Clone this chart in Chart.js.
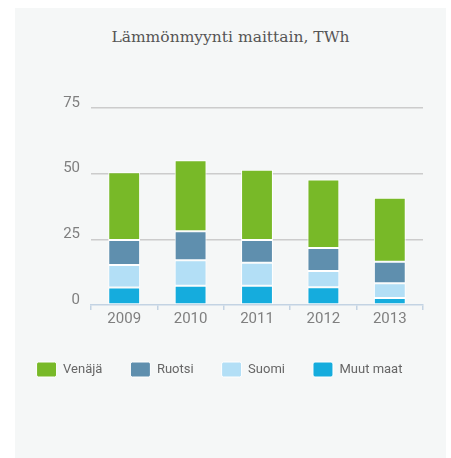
<!DOCTYPE html>
<html>
<head>
<meta charset="utf-8">
<script src="https://cdn.jsdelivr.net/npm/chart.js@4"></script>
<style>
    body { margin: 0; background: #ffffff; }
    #paneeli { position: absolute; left: 15px; top: 8px; width: 431px; height: 450px; background: #f5f7f7; }
    #otsikko {
        position: absolute; left: 0; top: 28px; width: 461px; line-height: 18px;
        text-align: center; font-family: "DejaVu Serif", serif; font-size: 15.5px; color: #555555;
    }
    #kaavio { position: absolute; left: 0; top: 0; }
</style>
</head>
<body>
<div id="paneeli"></div>
<div id="otsikko">Lämmönmyynti maittain, TWh</div>
<canvas id="kaavio" width="451" height="458"></canvas>
<script>

// ================= DATA =================

const vuodet = ["2009", "2010", "2011", "2012", "2013"];

const muutMaat = [6.7, 7.3, 7.3, 6.8, 2.7];
const suomi = [8.5, 9.7, 8.8, 6.1, 5.6];
const ruotsi = [9.5, 11.1, 8.6, 8.8, 8.2];
const venaja = [25.8, 27.0, 26.8, 26.1, 24.3];

const yTicks = [0, 25, 50, 75];

// ================= KAAVIO =================

const ctx = document.getElementById("kaavio").getContext("2d");

function sarja(nimi, arvot, vari) {
    return {
        label: nimi,
        data: arvot,
        backgroundColor: vari,
        borderColor: "#ffffff",
        borderWidth: 1,
        borderSkipped: false,
        categoryPercentage: 1,
        barPercentage: 0.48
    };
}

new Chart(ctx, {
    type: "bar",
    data: {
        labels: vuodet,
        datasets: [
            sarja("Muut maat", muutMaat, "#15acdd"),
            sarja("Suomi", suomi, "#b3dff6"),
            sarja("Ruotsi", ruotsi, "#5f8fae"),
            sarja("Venäjä", venaja, "#78b928")
        ]
    },
    options: {
        responsive: false,
        animation: false,
        layout: {
            padding: { left: 7, right: 19, top: 108, bottom: 71 }
        },
        plugins: {
            legend: {
                position: "bottom",
                reverse: true,
                labels: {
                    boxWidth: 20,
                    boxHeight: 15,
                    useBorderRadius: true,
                    borderRadius: 2,
                    padding: 28,
                    color: "#666666",
                    font: { family: "Roboto", size: 13 }
                }
            },
            tooltip: { enabled: false }
        },
        scales: {
            x: {
                stacked: true,
                afterFit: s => { s.height += 6; },
                border: { display: true, color: "#c3d3e3", width: 1.5 },
                grid: {
                    drawOnChartArea: false,
                    color: "#c3d3e3",
                    tickLength: 5,
                    lineWidth: 1.5
                },
                ticks: {
                    color: "#7f7f7f",
                    padding: 0,
                    font: { family: "Roboto", size: 15 }
                }
            },
            y: {
                stacked: true,
                min: 0,
                max: 75,
                afterFit: s => { s.width = 84; },
                afterBuildTicks: s => { s.ticks = yTicks.map(v => ({ value: v })); },
                border: { display: false },
                grid: {
                    drawTicks: false,
                    lineWidth: 1.5,
                    color: c => c.tick.value === 0 ? "rgba(0,0,0,0)" : "#cccccc"
                },
                ticks: {
                    color: "#7f7f7f",
                    padding: 11,
                    labelOffset: -5,
                    font: { family: "Roboto", size: 15 }
                }
            },
            // tyhjä akseli oikealle, jotta kaavioalue päättyy oikeaan kohtaan
            oikea: {
                position: "right",
                display: true,
                afterFit: s => { s.width = 9; },
                grid: { display: false },
                border: { display: false },
                ticks: { display: false }
            }
        }
    }
});

</script>
</body>
</html>
